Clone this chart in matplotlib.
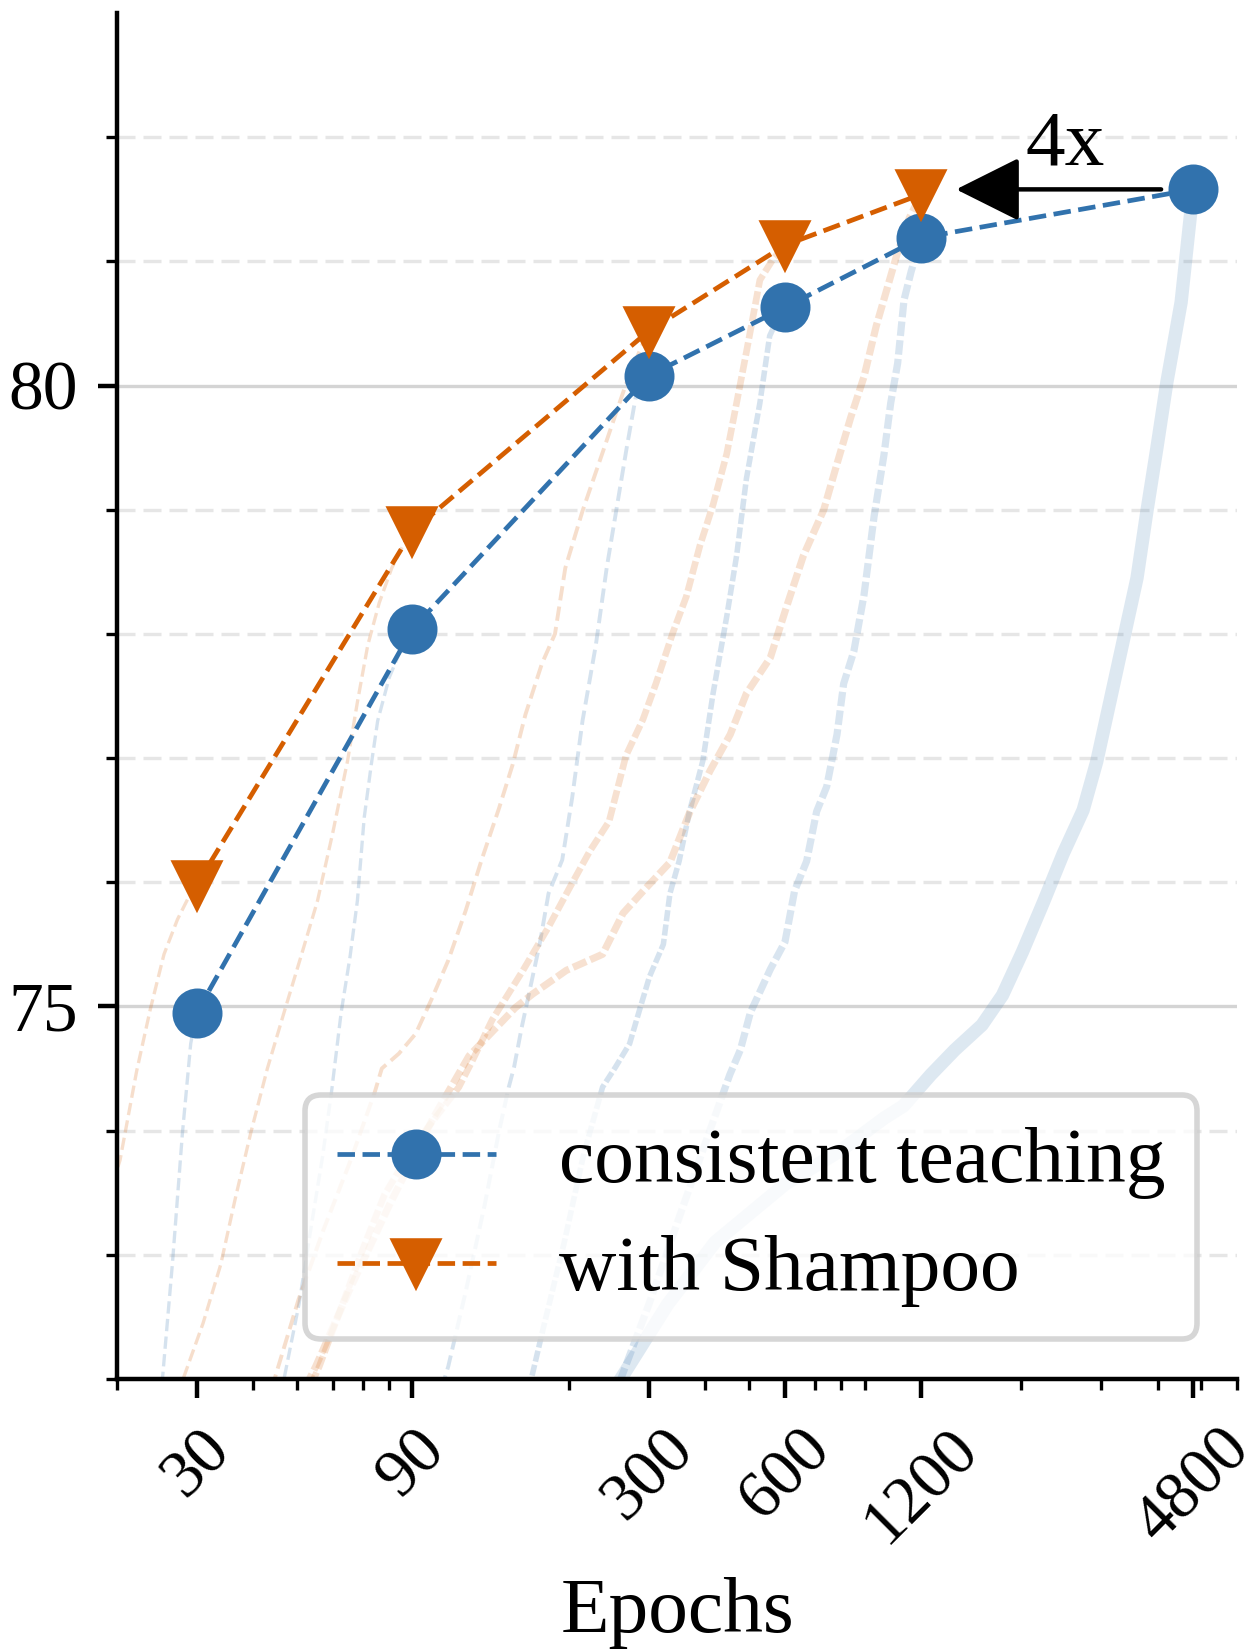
"""
Epochs vs. top-1 accuracy: consistent teaching with / without Shampoo
"""

import matplotlib as mpl
import matplotlib.pyplot as plt
from matplotlib.ticker import FixedLocator, NullFormatter, LogLocator


COLORS = {
    'ct': '#3172ad',
    'sh': '#d55e00',
}

mpl.rcParams.update({
    'figure.facecolor':     'white',
    'axes.facecolor':       'white',
    'axes.edgecolor':       'black',
    'axes.linewidth':       0.8,
    'axes.spines.top':      False,
    'axes.spines.right':    False,
    'font.family':          'serif',
    'font.serif':           ['Liberation Serif', 'Times New Roman', 'DejaVu Serif'],
    'mathtext.fontset':     'stix',
    'xtick.labelsize':      12,
    'ytick.labelsize':      12.5,
    'axes.labelsize':       14.3,
    'legend.fontsize':      14.3,
})

# final accuracy per training budget
epochs = [30, 90, 300, 600, 1200, 4800]
ct_acc = [74.95, 78.04, 80.08, 80.63, 81.19, 81.58]
sh_epochs = [30, 90, 300, 600, 1200]
sh_acc = [75.98, 78.83, 80.44, 81.13, 81.54]

# training curves (faint), consistent teaching
ct30_ep = [23.5, 25.2, 26.5, 27.9, 29.1, 30]
ct30_acc = [71.4, 72.0, 72.92, 73.98, 74.70, 74.95]
ct90_ep = [44, 46.8, 50.5, 53.6, 57, 59.6, 62.6, 65.5, 68, 70.4, 73, 75.4, 80, 85, 90]
ct90_acc = [71.6, 72.0, 72.6, 73.2, 73.8, 74.31, 74.95, 75.4, 75.85, 76.52, 76.95,
            77.30, 77.65, 77.88, 78.04]
ct300_ep = [98, 108, 118, 130, 140, 147, 151, 157, 166, 172, 180, 193, 203, 214, 229,
            242, 254, 268, 281, 292, 300]
ct300_acc = [71.6, 72.1, 72.7, 73.4, 74.0, 74.35, 74.51, 74.83, 75.24, 75.5, 75.91,
             76.18, 76.68, 77.3, 77.91, 78.53, 78.99, 79.5, 79.92, 80.02, 80.08]
ct600_ep = [160, 175, 195, 215, 237, 253, 272, 286, 301, 323, 334, 350, 369, 395, 416,
            446, 469, 493, 528, 555, 580, 600]
ct600_acc = [71.8, 72.4, 73.1, 73.8, 74.35, 74.51, 74.7, 74.97, 75.24, 75.5, 75.91,
             76.17, 76.57, 76.98, 77.52, 78.14, 78.63, 79.25, 79.86, 80.4, 80.55, 80.63]
ct1200_ep = [240, 260, 300, 350, 400, 453, 478, 503, 530, 557, 600, 630, 670, 705, 742,
             782, 809, 852, 897, 944, 993, 1028, 1065, 1100, 1141, 1200]
ct1200_acc = [71.7, 72.0, 72.6, 73.3, 73.9, 74.45, 74.65, 74.95, 75.13, 75.3, 75.52,
              75.93, 76.17, 76.57, 76.77, 77.19, 77.6, 77.86, 78.31, 78.94, 79.44,
              79.86, 80.18, 80.69, 80.92, 81.19]
ct4800_ep = [220, 260, 330, 420, 601, 797, 994, 1098, 1261, 1425, 1636, 1816, 2011,
             2232, 2474, 2738, 2934, 3141, 3366, 3603, 3790, 3984, 4196, 4510, 4729, 4800]
ct4800_acc = [71.6, 72.0, 72.6, 73.1, 73.57, 73.84, 74.1, 74.2, 74.45, 74.65, 74.85,
              75.09, 75.44, 75.83, 76.23, 76.58, 76.97, 77.46, 77.96, 78.45, 78.99,
              79.49, 80.03, 80.67, 81.37, 81.58]

# training curves (faint), with Shampoo
sh30_ep = [18.5, 20.3, 22.1, 23.7, 25.4, 27.2, 28.8, 30]
sh30_acc = [73.3, 73.76, 74.48, 74.98, 75.42, 75.70, 75.88, 75.98]
sh90_ep = [26, 28, 31, 33.9, 36.5, 39.5, 43, 46.8, 51, 55.5, 60, 64.7, 68, 71.7, 76,
           81, 86, 90]
sh90_acc = [71.6, 72.0, 72.45, 72.92, 73.45, 73.98, 74.5, 74.95, 75.4, 75.85, 76.4,
            76.98, 77.45, 77.91, 78.25, 78.53, 78.72, 78.83]
sh300_ep = [42, 44.6, 50.4, 57.2, 65.7, 74.3, 77, 84, 91.5, 99, 108, 118, 128, 140,
            150, 160, 174, 186, 196, 214, 237, 255, 271, 288, 300]
sh300_acc = [71.6, 72.0, 72.64, 73.2, 73.76, 74.31, 74.5, 74.62, 74.78, 75.05, 75.37,
             75.77, 76.18, 76.6, 76.95, 77.35, 77.76, 78.0, 78.53, 78.99, 79.46, 79.8,
             80.08, 80.3, 80.44]
sh600_ep = [50, 56, 63, 70, 78, 88, 97.6, 106, 114, 122, 135, 158, 180, 200, 222, 245,
            267, 291, 311, 339, 363, 389, 416, 446, 469, 493, 528, 565, 600]
sh600_acc = [71.7, 72.1, 72.6, 73.05, 73.48, 73.8, 74.03, 74.2, 74.35, 74.56, 74.89,
             75.29, 75.64, 75.95, 76.25, 76.49, 77.02, 77.31, 77.6, 78.01, 78.3,
             78.71, 79.04, 79.45, 79.86, 80.27, 80.85, 81.02, 81.13]
sh1200_ep = [50, 55, 65, 80, 100, 120, 152, 166, 197, 237, 263, 295, 334, 370, 410,
             454, 493, 557, 605, 659, 731, 782, 838, 897, 955, 1062, 1130, 1200]
sh1200_acc = [71.8, 72.1, 72.7, 73.4, 74.1, 74.6, 74.99, 75.1, 75.29, 75.42, 75.75,
              75.95, 76.16, 76.57, 76.9, 77.19, 77.52, 77.81, 78.22, 78.63, 79.0,
              79.37, 79.74, 80.07, 80.48, 81.06, 81.35, 81.54]

tick_labels = ['30', '90', '300', '600', '1200', '4800']
y_major = [75, 80]
y_minor = [72, 73, 74, 76, 77, 78, 79, 81, 82]


fig = plt.figure(figsize=(3.14, 4.13), dpi=400)
ax = fig.add_axes([0.0932, 0.1653, 0.8918, 0.8268])
ax.set_xscale('log')

# faint training curves: (ep, acc, color, width, style, alpha)
short_dash = (0, (3.7, 1.6))
noisy_dash = (0, (2.0, 0.6))
faint = [
    (ct30_ep, ct30_acc, 'ct', 0.6, short_dash, 0.2),
    (ct90_ep, ct90_acc, 'ct', 0.6, short_dash, 0.2),
    (ct300_ep, ct300_acc, 'ct', 0.7, short_dash, 0.2),
    (ct600_ep, ct600_acc, 'ct', 1.0, noisy_dash, 0.2),
    (ct1200_ep, ct1200_acc, 'ct', 1.3, noisy_dash, 0.18),
    (ct4800_ep, ct4800_acc, 'ct', 2.4, '-', 0.16),
    (sh30_ep, sh30_acc, 'sh', 0.6, short_dash, 0.2),
    (sh90_ep, sh90_acc, 'sh', 0.6, short_dash, 0.2),
    (sh300_ep, sh300_acc, 'sh', 0.7, short_dash, 0.2),
    (sh600_ep, sh600_acc, 'sh', 1.2, noisy_dash, 0.18),
    (sh1200_ep, sh1200_acc, 'sh', 1.3, noisy_dash, 0.18),
]
for ep, acc, key, lw, ls, alpha in faint:
    ax.plot(ep, acc, ls=ls, lw=lw, color=COLORS[key], alpha=alpha, zorder=1)

ax.plot(epochs, ct_acc, ls='--', lw=0.85, marker='o', ms=8,
        color=COLORS['ct'], label='consistent teaching', zorder=3)
ax.plot(sh_epochs, sh_acc, ls='--', lw=0.85, marker='v', ms=8,
        color=COLORS['sh'], label='with Shampoo', zorder=3)

# 4x arrow
ax.annotate('', xy=(sh_epochs[-1], ct_acc[-1]), xytext=(epochs[-1], ct_acc[-1]),
            arrowprops=dict(arrowstyle='-|>,head_length=0.4,head_width=0.2',
                            mutation_scale=25, color='black', lw=0.8,
                            shrinkA=5.8, shrinkB=6.3),
            zorder=4)
ax.text(2500, 81.78, '4x', fontsize=14.3, ha='center', va='baseline')

ax.set_xlim(20, 6000)
ax.set_ylim(72, 83)

ax.xaxis.set_major_locator(FixedLocator(epochs))
ax.set_xticklabels(tick_labels, rotation=45)
ax.xaxis.set_minor_locator(LogLocator(base=10, subs=range(2, 10)))
ax.xaxis.set_minor_formatter(NullFormatter())

ax.set_yticks(y_major)
ax.yaxis.set_minor_locator(FixedLocator(y_minor))

ax.grid(True, which='major', axis='y', color='#d4d4d4', lw=0.6, ls='-', zorder=0)
ax.grid(True, which='minor', axis='y', color='#e6e6e6', lw=0.6, ls=(0, (5.4, 2.4)), zorder=0)
ax.set_axisbelow(True)

ax.set_xlabel('Epochs')

ax.legend(loc='lower right', handlelength=2.0, labelspacing=0.45)

fig.savefig('out.png', dpi=400, facecolor='white')
